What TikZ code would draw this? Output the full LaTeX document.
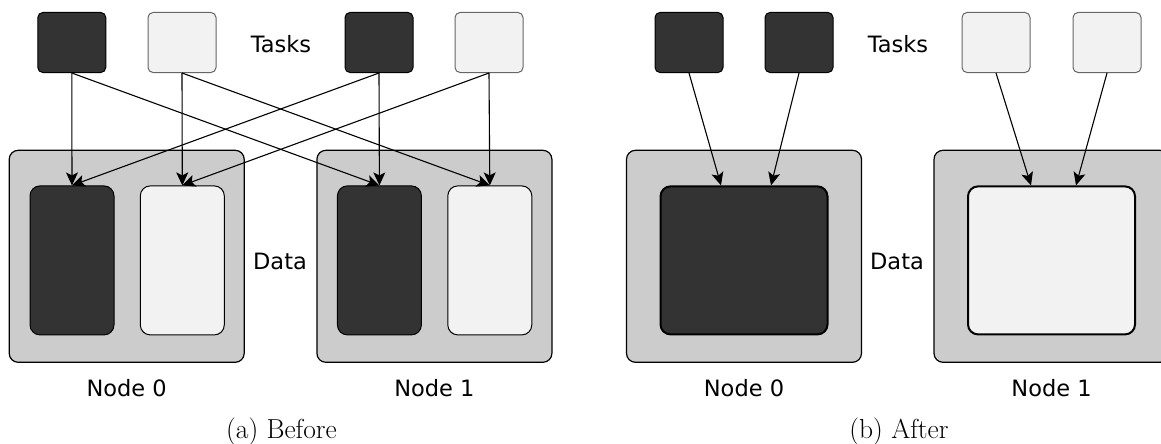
\documentclass[tikz,border=0pt]{standalone}
\usepackage{fontspec}
\newfontfamily\labelfont{DejaVu Sans}
\usetikzlibrary{arrows.meta,calc}

\definecolor{darkfill}{HTML}{333333}
\definecolor{lightfill}{HTML}{F2F2F2}
\definecolor{nodefill}{HTML}{CCCCCC}

\tikzset{
  taskbox/.style={draw, line width=1pt, rounded corners=5pt,
    minimum width=68pt, minimum height=60pt, inner sep=0pt},
  darktask/.style={taskbox, fill=darkfill, draw=black},
  lighttask/.style={taskbox, fill=lightfill, draw=black!60},
  machine/.style={draw=black, line width=1.2pt, fill=nodefill, rounded corners=9pt,
    minimum width=235pt, minimum height=212pt, inner sep=0pt},
  datablock/.style={draw=black, line width=1pt, rounded corners=10pt,
    minimum width=84pt, minimum height=149pt, inner sep=0pt},
  bigblock/.style={draw=black, line width=2pt, rounded corners=10pt,
    minimum width=167pt, minimum height=148pt, inner sep=0pt},
  flow/.style={-{Stealth[length=13pt,width=12pt,inset=3pt]}, line width=1.1pt},
  lbl/.style={font=\labelfont\fontsize{22.5}{27}\selectfont, anchor=base, inner sep=0pt},
  captext/.style={font=\fontsize{27.5}{32}\selectfont, anchor=base, inner sep=0pt}
}

\begin{document}
\begin{tikzpicture}[x=1pt, y=-1pt]
\useasboundingbox (0,0) rectangle (1161,444);

% ---------- (a) Before ----------
\node[darktask]  (ta1) at (71.8,42.5) {};
\node[lighttask] (ta2) at (182,42.5) {};
\node[darktask]  (ta3) at (379,42.5) {};
\node[lighttask] (ta4) at (489,42.5) {};
\node[lbl] (tasksA) at (281,52.5) {Tasks};

\node[machine] (ma0) at (126.7,256.3) {};
\node[machine] (ma1) at (434.4,256.3) {};
\node[datablock, fill=darkfill]  (da0) at (72,260.4) {};
\node[datablock, fill=lightfill] (la0) at (182.3,260.4) {};
\node[datablock, fill=darkfill]  (da1) at (379.4,260.4) {};
\node[datablock, fill=lightfill] (la1) at (489.8,260.4) {};
\node[lbl] (dataA) at (280,269) {Data};
\node[lbl] (n0A) at (126.7,396) {Node 0};
\node[lbl] (n1A) at (434.4,396) {Node 1};
\node[captext] (capA) at (281.5,438) {(a) Before};

\draw[flow] (ta1.south) -- (da0.north);
\draw[flow] (ta2.south) -- (la0.north);
\draw[flow] (ta3.south) -- (da1.north);
\draw[flow] (ta4.south) -- (la1.north);
\draw[flow] (ta1.south) -- (da1.north);
\draw[flow] (ta2.south) -- (la1.north);
\draw[flow] (ta3.south) -- (da0.north);
\draw[flow] (ta4.south) -- (la0.north);

% ---------- (b) After ----------
\node[darktask]  (tb1) at (689,42.5) {};
\node[darktask]  (tb2) at (799,42.5) {};
\node[lighttask] (tb3) at (996,42.5) {};
\node[lighttask] (tb4) at (1107,42.5) {};
\node[lbl] (tasksB) at (898,52.5) {Tasks};

\node[machine] (mb0) at (744,256.3) {};
\node[machine] (mb1) at (1051.5,256.3) {};
\node[bigblock, fill=darkfill]  (db0) at (744,260.4) {};
\node[bigblock, fill=lightfill] (lb1) at (1051.5,260.4) {};
\node[lbl] (dataB) at (897,269) {Data};
\node[lbl] (n0B) at (744,396) {Node 0};
\node[lbl] (n1B) at (1051.5,396) {Node 1};
\node[captext] (capB) at (899,438) {(b) After};

\draw[flow] (tb1.south) -- ([xshift=-23pt]db0.north);
\draw[flow] (tb2.south) -- ([xshift=27pt]db0.north);
\draw[flow] (tb3.south) -- ([xshift=-20.5pt]lb1.north);
\draw[flow] (tb4.south) -- ([xshift=24.5pt]lb1.north);
\end{tikzpicture}
\end{document}
